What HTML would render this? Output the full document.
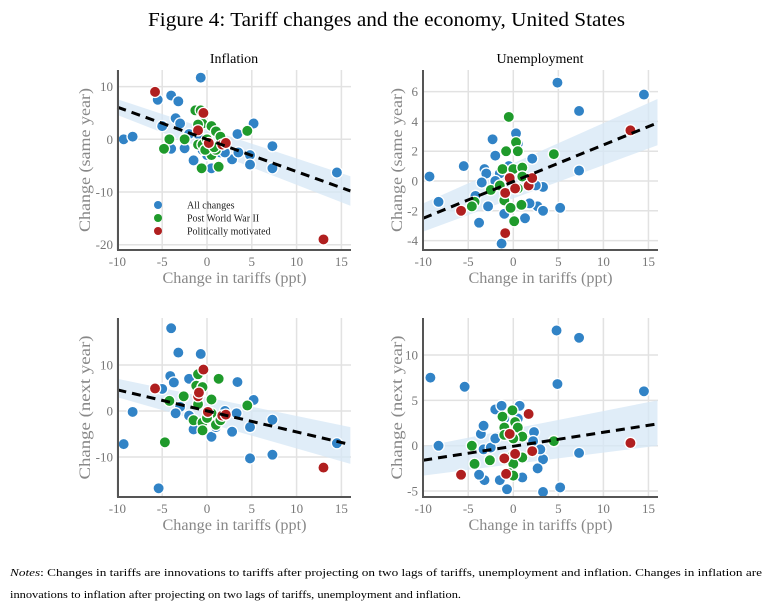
<!DOCTYPE html>
<html><head><meta charset="utf-8">
<style>
body{margin:0;background:#fff;width:773px;height:612px;overflow:hidden;}
svg{display:block;font-family:"Liberation Serif",serif;}
</style></head>
<body>
<svg id="s" width="773" height="612" viewBox="0 0 773 612" xmlns="http://www.w3.org/2000/svg">
<text x="148" y="26" textLength="477" lengthAdjust="spacingAndGlyphs" font-size="20" fill="#000">Figure 4: Tariff changes and the economy, United States</text>
<text x="234" y="63" text-anchor="middle" font-size="14" fill="#000">Inflation</text>
<text x="540" y="63" text-anchor="middle" font-size="14" fill="#000">Unemployment</text>
<text x="10" y="576" font-size="10.5" fill="#000" textLength="752" lengthAdjust="spacingAndGlyphs"><tspan font-style="italic">Notes</tspan>: Changes in tariffs are innovations to tariffs after projecting on two lags of tariffs, unemployment and inflation. Changes in inflation are</text>
<text x="10" y="598" font-size="10.5" fill="#000" textLength="451" lengthAdjust="spacingAndGlyphs">innovations to inflation after projecting on two lags of tariffs, unemployment and inflation.</text>
</svg>
<script>
var NS="http://www.w3.org/2000/svg",S=document.getElementById('s');
function el(t,a,txt,p){var e=document.createElementNS(NS,t);for(var k in a)e.setAttribute(k,a[k]);if(txt!=null)e.textContent=txt;(p||S).appendChild(e);return e;}
var C={b:"#3183c6",g:"#1f9a2b",r:"#b01f1f"};
function panel(P){
 var X=function(v){return P.x0+v*P.sx},Y=function(v){return P.y0-v*P.sy};
 var g=el('g',{});
 [-10,-5,0,5,10,15].forEach(function(v){el('line',{x1:X(v),x2:X(v),y1:P.top,y2:P.bot,stroke:"#e2e2e2","stroke-width":1.5},null,g);
   el('text',{x:X(v),y:P.bot+16,"text-anchor":"middle","font-size":13,fill:"#777"},v,g);});
 P.yt.forEach(function(v){el('line',{x1:P.left,x2:P.right,y1:Y(v),y2:Y(v),stroke:"#e2e2e2","stroke-width":1.5},null,g);
   el('text',{x:P.left-5,y:Y(v)+4.5,"text-anchor":"end","font-size":13,fill:"#777"},v,g);});
 var b=P.band;
 el('polygon',{points:X(-10)+","+Y(b[0])+" "+X(16)+","+Y(b[2])+" "+X(16)+","+Y(b[3])+" "+X(-10)+","+Y(b[1]),fill:"#d6e7f5","fill-opacity":0.75},null,g);
 ['b','g','r'].forEach(function(c){P.pts[c].forEach(function(p){el('circle',{cx:X(p[0]),cy:Y(p[1]),r:5.6,fill:C[c],stroke:"#fff","stroke-width":1.3},null,g);});});
 el('line',{x1:X(-10),y1:Y(P.tr[0]),x2:X(16),y2:Y(P.tr[1]),stroke:"#000","stroke-width":3,"stroke-dasharray":"9,6"},null,g);
 el('polyline',{points:P.left+","+P.top+" "+P.left+","+P.bot+" "+P.right+","+P.bot,fill:"none",stroke:"#555","stroke-width":2},null,g);
 var cx=(P.left+P.right)/2;
 el('text',{x:cx-72,y:P.bot+33,"font-size":16,fill:"#888",textLength:144,lengthAdjust:"spacingAndGlyphs"},"Change in tariffs (ppt)",g);
 var cy=(P.top+P.bot)/2;
 el('text',{x:P.ylx,y:cy+72,"font-size":16,fill:"#888",textLength:144,lengthAdjust:"spacingAndGlyphs",transform:"rotate(-90 "+P.ylx+" "+(cy+72)+")"},P.yl,g);
}
panel({x0:207,sx:8.96,y0:139.3,sy:5.27,left:118,right:351,top:70,bot:250,yt:[10,0,-10,-20],ylx:90,yl:"Change (same year)",
 band:[7.6,4.6,-7,-12.6],tr:[6.1,-9.8],pts:{
 b:[[-9.3,0],[-8.3,0.5],[-5.5,7.5],[-4,8.3],[-3.2,7.2],[-5,2.5],[-3.5,4],[-3,3],[-4,-1.8],[-2.5,-1.7],[-1.5,-4],[-0.7,11.7],[0.5,-5.5],[3.4,1],[5.2,3],[2.8,-3.8],[3.5,-2.5],[4.8,-3],[4.8,-4.8],[7.3,-1.3],[7.3,-5.5],[14.5,-6.3],[2,-1],[-1,1],[1,1.5],[0,-3],[-0.5,-2],[1.5,-2.5],[2,-2.5],[-2,1]],
 g:[[-1.3,5.5],[-0.7,5.5],[-0.5,3],[0.5,2.5],[1,1.5],[-1,2.8],[-2.5,0],[-4.2,0],[-4.8,-1.8],[-1,-1],[-0.5,-1],[0.5,-3],[-0.6,-5.5],[1.3,-5.2],[4.5,1.6],[0,0],[1,-2],[1.5,0.5],[-0.2,-2],[0.8,-1.5]],
 r:[[-5.8,9],[-0.4,5],[-1,1.7],[0.2,-0.7],[1.7,-1],[2.1,-0.7],[13,-19]]}});
panel({x0:513.3,sx:9.01,y0:181,sy:14.9,left:423,right:658,top:70,bot:250,yt:[6,4,2,0,-2,-4],ylx:402,yl:"Change (same year)",
 band:[-1.5,-3.4,5.5,2.4],tr:[-2.5,3.9],pts:{
 b:[[-9.3,0.3],[-8.3,-1.4],[-5.5,1],[-2.3,2.8],[-2,1.7],[-3.2,0.8],[-3,0.5],[-2.8,-1.7],[-3.8,-2.8],[-4.2,-1],[-3.5,-0.1],[-1.3,-4.2],[-1,-2.2],[0.3,3.2],[0.5,2.5],[2.1,1.5],[3.3,-0.4],[2.7,-1.7],[3.3,-2],[1.3,-2.5],[4.9,6.6],[7.3,4.7],[7.3,0.7],[5.2,-1.8],[14.5,5.8],[-1.5,0.5],[-2,0],[1.8,-1.5],[2.5,-0.3],[-0.5,1]],
 g:[[-0.5,4.3],[-0.8,2],[0.3,2.6],[0.5,2],[-1.2,0.8],[0,0.8],[1,0.9],[-2.5,-0.6],[-4.3,-1.4],[-4.6,-1.7],[-1,-1.3],[-0.3,-1.8],[0.9,-1.6],[0.1,-2.7],[4.5,1.8],[-1.5,-0.3],[0.5,-0.5],[1,0.3]],
 r:[[-5.8,-2],[-0.9,-0.8],[-0.4,0.2],[0.2,-0.5],[1.7,-0.3],[2.1,0.2],[-0.9,-3.5],[13,3.4]]}});
panel({x0:207,sx:8.96,y0:411,sy:4.6,left:118,right:351,top:318,bot:497,yt:[10,0,-10],ylx:90,yl:"Change (next year)",
 band:[7,3,-3.5,-11.5],tr:[4.6,-7.3],pts:{
 b:[[-9.3,-7.2],[-8.3,-0.2],[-5.4,-16.8],[-5,4.8],[-4,18],[-3.2,12.7],[-4.1,7.6],[-3.7,6.2],[-2,7],[-3,0.9],[-3.5,-0.5],[-0.7,12.4],[-2,-1],[0.5,-5.6],[3.4,6.3],[5.2,2.4],[3.3,-0.5],[2.8,-4.5],[2,0],[4.8,-3.5],[4.8,-10.3],[7.3,-1.9],[7.3,-9.5],[14.5,-7],[-1.5,-4],[1,-3.5]],
 g:[[-4.2,2.2],[-2.6,3.2],[-1,8],[-1.2,5.5],[-0.5,5.2],[1.3,7],[-1,1.5],[-1.5,-2],[-0.5,-2.5],[-0.5,-4.2],[0.5,2.5],[0.5,-0.5],[1,-3],[1.5,-2],[-4.7,-6.8],[4.5,1.2],[0,-1.5]],
 r:[[-5.8,4.9],[-0.4,9],[-1,3.2],[-0.9,4],[0.1,-0.2],[1.7,-1],[2.1,-0.8],[13,-12.3]]}});
panel({x0:513.3,sx:9.01,y0:445.7,sy:9.07,left:423,right:658,top:318,bot:497,yt:[10,5,0,-5],ylx:402,yl:"Change (next year)",
 band:[-0.1,-3.3,5,0],tr:[-1.6,2.4],pts:{
 b:[[-9.2,7.5],[-8.3,0],[-5.4,6.5],[4.8,12.7],[7.3,11.9],[4.9,6.8],[14.5,6],[7.3,-0.8],[5.2,-4.6],[3.3,-5.1],[-0.7,-4.8],[-3.2,-3.8],[-3.8,-3.2],[-3.6,1.3],[-3.3,2.2],[-2,4],[-1.3,4.4],[0.7,4.4],[2.3,1.5],[2.2,0.5],[3.3,-1.5],[2.7,-2.5],[-3.3,-0.4],[-1.5,-3.8],[1,-3.5],[-2.5,-0.2],[3,-0.4],[-1,3],[0.5,3],[-2,0.8]],
 g:[[-0.1,3.9],[-1.2,3.2],[0.2,2.6],[-1,2],[0.5,2],[-1,1.2],[1,1],[0,0.8],[-4.6,0],[-4.3,-2],[-2.6,-1.6],[0,-1],[1,-1.3],[0,-2],[-0.5,-3],[0,-3.3],[4.5,0.5]],
 r:[[1.7,3.5],[-0.4,1.3],[2.1,-0.6],[0.2,-0.9],[-1,-1.4],[-0.8,-3.1],[-5.8,-3.2],[13,0.3]]}});
[["b","All changes",205],["g","Post World War II",218],["r","Politically motivated",231]].forEach(function(l){
 el('circle',{cx:158,cy:l[2],r:4,fill:C[l[0]]});
 el('text',{x:187,y:l[2]+3.5,"font-size":10,fill:"#222"},l[1]);});
</script>
</body></html>
